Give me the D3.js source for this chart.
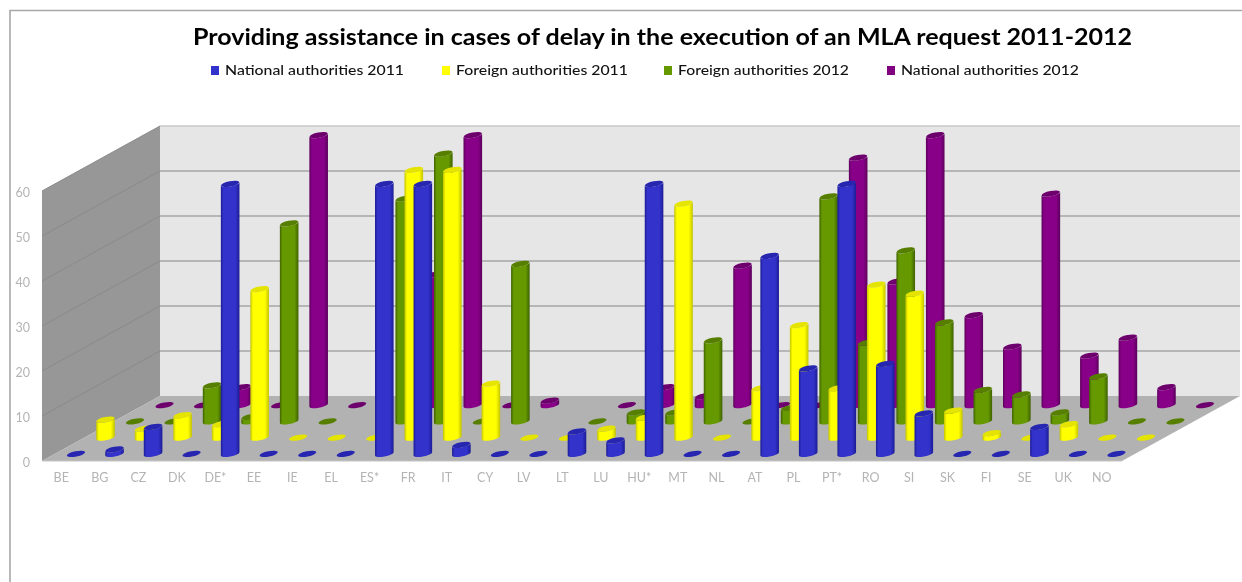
<!DOCTYPE html>
<html><head><meta charset="utf-8">
<script src="https://cdnjs.cloudflare.com/ajax/libs/d3/7.8.5/d3.min.js"></script>
<style>html,body{margin:0;padding:0;background:#fff;overflow:hidden}svg{display:block;filter:blur(0.55px)}</style>
</head><body><svg id="c" width="1242" height="582"></svg>
<script>
const categories=["BE","BG","CZ","DK","DE*","EE","IE","EL","ES*","FR","IT","CY","LV","LT","LU","HU*","MT","NL","AT","PL","PT*","RO","SI","SK","FI","SE","UK","NO"];
const seriesNames=["National authorities 2011","Foreign authorities 2011","Foreign authorities 2012","National authorities 2012"];
const national2011=[0,1,6,0,60,0,0,0,60,60,2,0,0,5,3,60,0,0,44,19,60,20,9,0,0,6,0,0];
const foreign2011=[4,2,5,3,33,0,0,0,59.5,59.5,12,0,0,2,4.5,52,0,11,25,11,34,32,6,1,0,3,0,0];
const foreign2012=[0,0,8,1,44,0,null,49.5,59.5,0,35,null,0,2,2,18,0,3,50,17.5,38,22,7,6,2,10,0,0];
const national2012=[0,0,4,0,60,0,null,29,60,0,1,null,0,4,2,31,0,0,55,27.5,60,20,13,47,11,15,4,0];
const yTicks=[0,10,20,30,40,50,60];
const title="Providing assistance in cases of delay in the execution of an MLA request 2011-2012";
const valuesBySeries=[national2011,foreign2011,foreign2012,national2012];
const bodyColors=[["#1c1c96","#3333cc"],["#c4c400","#ffff00"],["#3f6200","#669900"],["#5c005c","#880088"]];
const capColors=["#2626b0","#e4e400","#567f00","#6e006e"];
const legendColors=["#3333cc","#ffff00","#669900","#800080"];

const svg=d3.select("#c");
const font="Lato, 'DejaVu Sans', sans-serif";
const left=42,right=1121,depthX=118,depthY=65;
const x=d3.scaleBand().domain(categories).range([left,right]);
const y=d3.scaleLinear().domain([0,60]).range([461,191]);
const depth=d3.scaleBand().domain(seriesNames).range([0,1]);

// frame
svg.append("path").attr("d","M10 582L10 10.5L1242 10.5").attr("fill","none").attr("stroke","#a8a8a8").attr("stroke-width",1.6);

// walls
const pts=a=>a.map(p=>p.join(",")).join(" ");
svg.append("polygon").attr("points",pts([[left,y(60)],[left+depthX,y(60)-depthY],[left+depthX,y(0)-depthY],[left,y(0)]])).attr("fill","#979797");
svg.append("polygon").attr("points",pts([[left+depthX,y(60)-depthY],[right+depthX+1,y(60)-depthY],[right+depthX+1,y(0)-depthY],[left+depthX,y(0)-depthY]])).attr("fill","#e6e6e6");
svg.append("polygon").attr("points",pts([[left,y(0)],[left+depthX,y(0)-depthY],[right+depthX+1,y(0)-depthY],[right+1,y(0)]])).attr("fill","#b2b2b2");
svg.append("line").attr("x1",left).attr("x2",right+1).attr("y1",y(0)).attr("y2",y(0)).attr("stroke","#c4c4c4").attr("stroke-width",1.2);

// gridlines
const grid=svg.append("g");
yTicks.filter(t=>t>0).forEach(t=>{
  grid.append("line").attr("x1",left).attr("y1",y(t)).attr("x2",left+depthX).attr("y2",y(t)-depthY).attr("stroke","#8a8a8a").attr("stroke-width",1);
  grid.append("line").attr("x1",left+depthX).attr("y1",y(t)-depthY).attr("x2",right+depthX+1).attr("y2",y(t)-depthY).attr("stroke",t===60?"#c8c8c8":"#a6a6a6").attr("stroke-width",1.4);
});

// gradients
const defs=svg.append("defs");
bodyColors.forEach((c,i)=>{
  const g=defs.append("linearGradient").attr("id","g"+i);
  g.append("stop").attr("offset","0").attr("stop-color",c[0]);
  g.append("stop").attr("offset","0.14").attr("stop-color",c[1]);
  g.append("stop").attr("offset","0.78").attr("stop-color",c[1]);
  g.append("stop").attr("offset","1").attr("stop-color",c[0]);
});

// cylinders, back row first
const rw=9.3,ry=2.6,rot=-11,tilt=1.7,seat=1;
d3.range(seriesNames.length-1,-1,-1).forEach(si=>{
  const s=seriesNames[si];
  const f=depth(s)+depth.bandwidth()/2;
  const row=svg.append("g").attr("class","row");
  categories.forEach((cat,ci)=>{
    const v=valuesBySeries[si][ci];
    if(v===null) return;
    const cx=x(cat)+x.bandwidth()/2+depthX*f;
    const base=y(0)-depthY*f+seat;
    const top=base-(y(0)-y(v));
    const arc=(sweep,ex,ey)=>`A${rw} ${ry} ${rot} 0 ${sweep} ${ex} ${ey}`;
    const L=cx-rw,R=cx+rw;
    if(v>0){
      row.append("path")
        .attr("d",`M${L} ${top+tilt}L${L} ${base+tilt}${arc(0,R,base-tilt)}L${R} ${top-tilt}${arc(1,L,top+tilt)}Z`)
        .attr("fill",`url(#g${si})`);
    }
    row.append("ellipse").attr("cx",cx).attr("cy",top).attr("rx",rw).attr("ry",ry)
      .attr("transform",`rotate(${rot} ${cx} ${top})`).attr("fill",capColors[si]);
  });
});

// axes
const yAxis=d3.axisLeft(y).tickValues(yTicks).tickSize(0).tickPadding(0);
const ya=svg.append("g").attr("transform","translate(30,1)").call(yAxis);
ya.select(".domain").remove();
ya.selectAll("text").attr("fill","#b4b4b4").attr("font-family",font).attr("font-size",12.5);
const xAxis=d3.axisBottom(x).tickSize(0).tickPadding(0);
const xa=svg.append("g").attr("transform","translate(0,473)").call(xAxis);
xa.select(".domain").remove();
xa.selectAll("text").attr("fill","#b4b4b4").attr("font-family",font).attr("font-size",12.5);

// title
svg.append("text").attr("x",193).attr("y",45).attr("font-family",font).attr("font-weight",700).attr("font-size",23)
  .attr("fill","#000").attr("textLength",939).attr("lengthAdjust","spacingAndGlyphs").text(title);

// legend
const lx=[215,446,668,891],lw=[179,172,171,178];
seriesNames.forEach((t,i)=>{
  svg.append("rect").attr("x",lx[i]-4).attr("y",66).attr("width",8).attr("height",9).attr("fill",legendColors[i]);
  svg.append("text").attr("x",lx[i]+10).attr("y",75).attr("font-family",font).attr("font-size",13.5).attr("font-weight",500)
    .attr("fill","#111").attr("textLength",lw[i]).attr("lengthAdjust","spacingAndGlyphs").text(t);
});
</script></body></html>
